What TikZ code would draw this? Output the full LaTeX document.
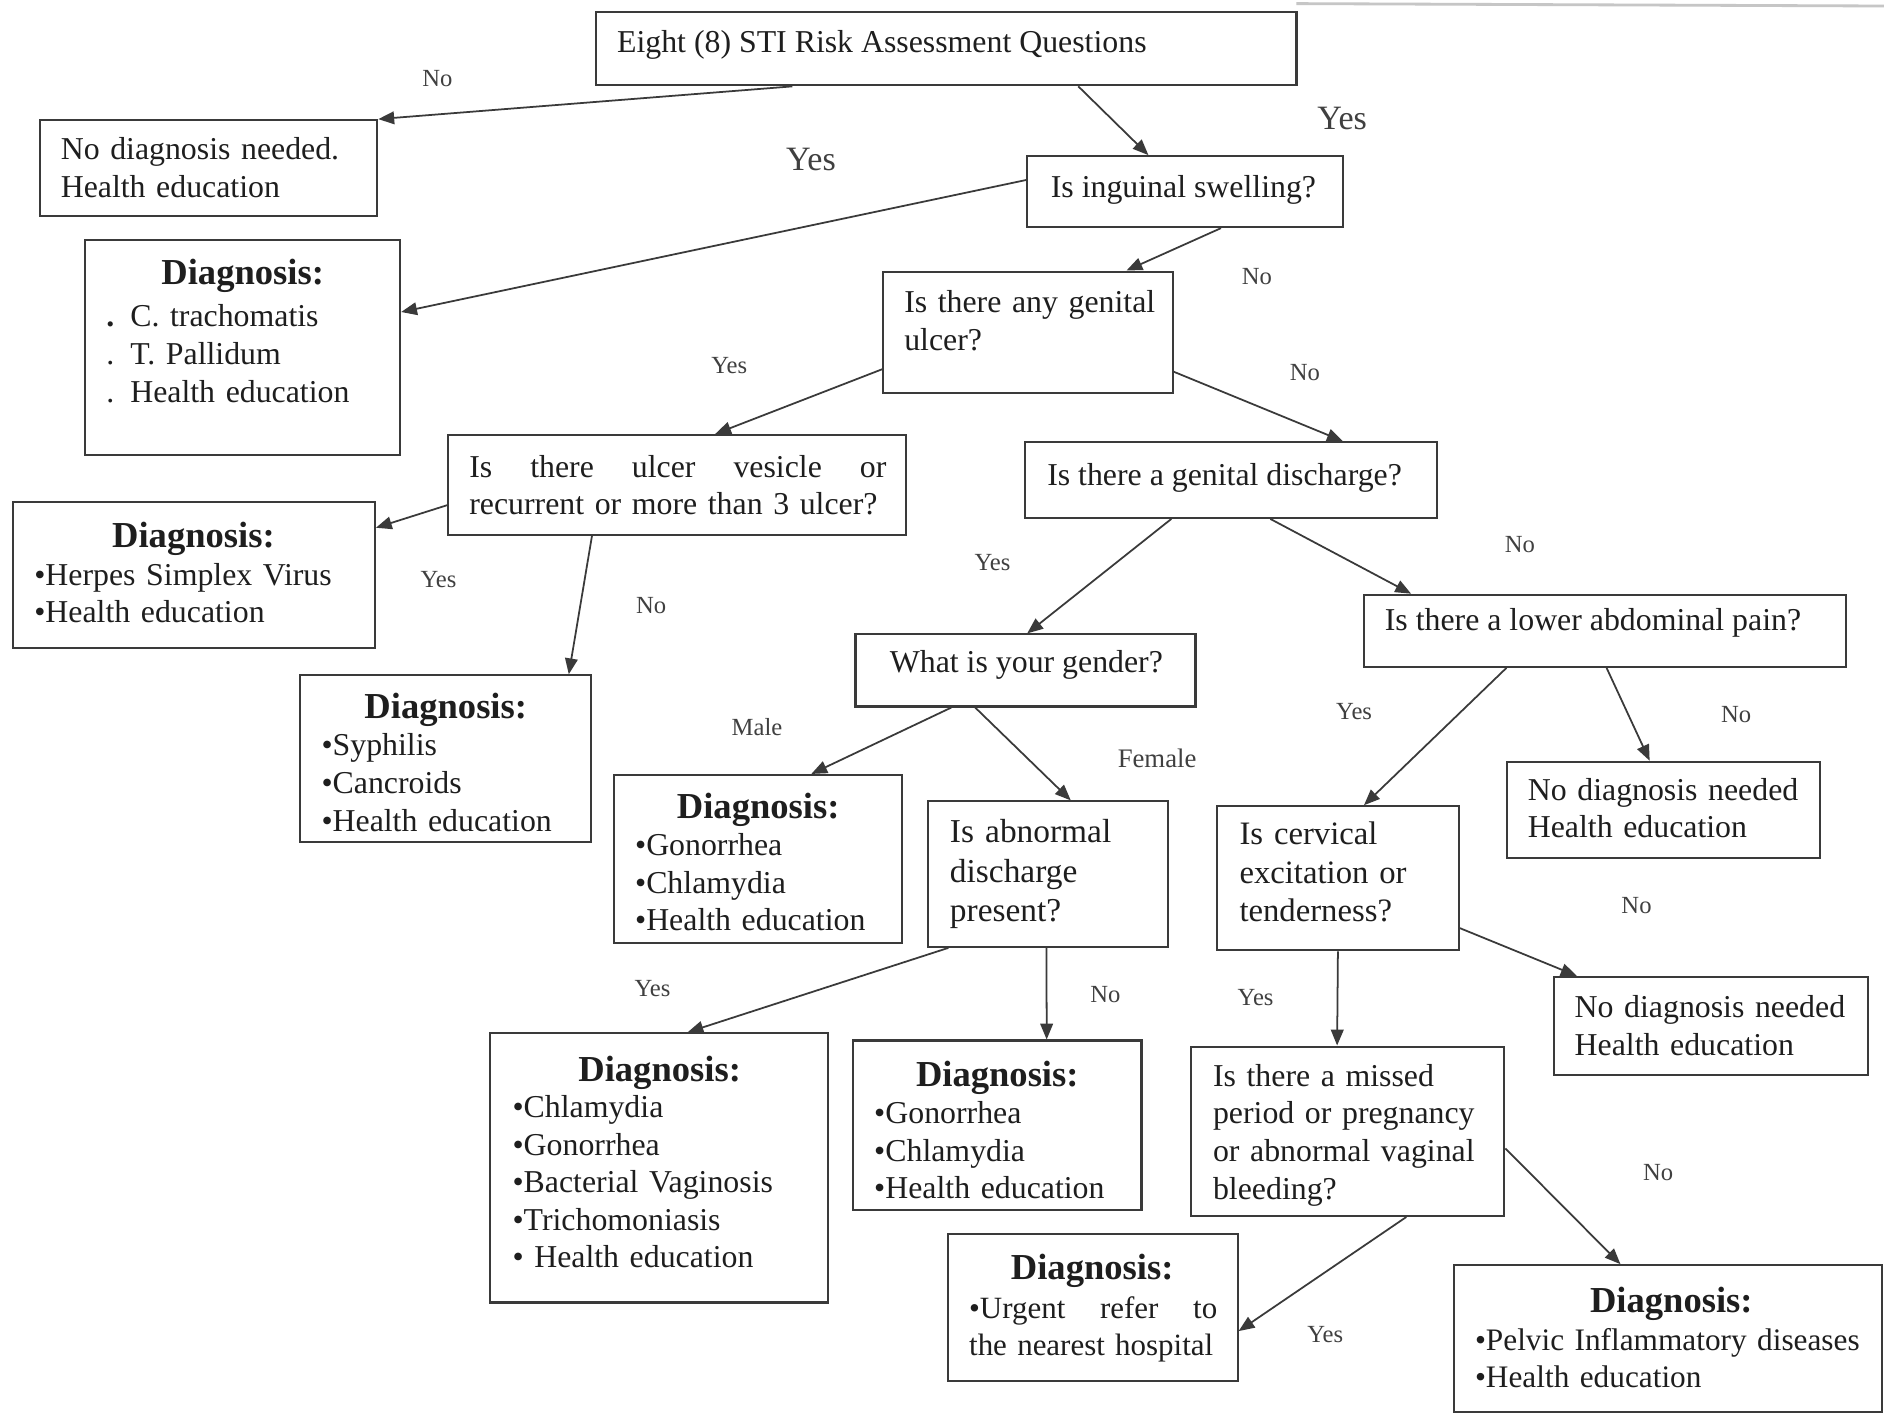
\documentclass[tikz,border=0pt]{standalone}
\usepackage{fontspec}
\setmainfont{Liberation Serif}
\usetikzlibrary{arrows.meta,calc,fit}
\definecolor{linec}{HTML}{3A3A3A}
\definecolor{txtc}{HTML}{1E1E1E}
\definecolor{labc}{HTML}{404040}
\tikzset{
 box/.style={draw=linec, line width=0.6pt, inner sep=0pt},
 txt/.style={font=\fontsize{9.05}{10.7}\selectfont, text=txtc, inner sep=0pt},
 mtxt/.style={txt, text width=5cm, align=left},
 hd/.style={font=\fontsize{10.4}{12}\selectfont\bfseries, text=txtc, inner sep=0pt},
 lab/.style={font=\fontsize{7}{8}\selectfont, text=labc, inner sep=0pt},
 biglab/.style={font=\fontsize{9.7}{11}\selectfont, text=labc, inner sep=0pt},
 arr/.style={draw=linec, line width=0.5pt, -{Triangle[length=4.5pt,width=3.6pt]}},
}
\begin{document}
\begin{tikzpicture}[x=0.012015cm, y=-0.012015cm]
\useasboundingbox[fill=white] (0,0) rectangle (1568,1177);
\draw[gray!45, line width=0.8pt] (1079,3) -- (1568,5);
% boxes
\node[box, fit={(496,10) (1079,71)}] (top) {};
\node[box, fit={(33,100) (314,180)}] (nd1) {};
\node[box, fit={(855,130) (1118,189)}] (ing) {};
\node[box, fit={(71,200) (333,379)}] (d1) {};
\node[box, fit={(735,226) (976,327)}] (ulc) {};
\node[box, fit={(373,362) (754,445)}] (ves) {};
\node[box, fit={(853,368) (1196,431)}] (dis) {};
\node[box, fit={(11,418) (312,539)}] (hsv) {};
\node[box, fit={(250,562) (492,701)}] (syp) {};
\node[box, fit={(712,528) (995,588)}] (gen) {};
\node[box, fit={(1135,495) (1536,555)}] (abd) {};
\node[box, fit={(511,645) (751,785)}] (gn1) {};
\node[box, fit={(772,667) (972,788)}] (abn) {};
\node[box, fit={(1013,671) (1214,791)}] (cer) {};
\node[box, fit={(1254,634) (1515,714)}] (nd2) {};
\node[box, fit={(1293,813) (1555,895)}] (nd3) {};
\node[box, fit={(408,860) (689,1084)}] (chl) {};
\node[box, fit={(710,866) (950,1007)}] (gn2) {};
\node[box, fit={(991,871) (1252,1012)}] (mis) {};
\node[box, fit={(789,1027) (1030,1149)}] (urg) {};
\node[box, fit={(1210,1053) (1566,1175)}] (pel) {};
% texts
\node[txt, anchor=base west] (topT) at (513,44) {Eight (8) STI Risk Assessment Questions};
\node[mtxt, anchor=base west] (nd1T) at (50,133) {No diagnosis needed.\\Health education};
\node[txt, anchor=base west] (ingT) at (874,164) {Is inguinal swelling?};
\node[hd, anchor=base] (d1H) at (202,237) {Diagnosis:};
\node[mtxt, anchor=base west] (d1L) at (88,272) {{\bfseries.} C. trachomatis\\. T. Pallidum\\. Health education};
\node[mtxt, anchor=base west] (ulcT) at (752,260) {Is there any genital\\ulcer?};
\node[txt, text width=4.169cm, align=left, anchor=base west] (vesT) at (390,397) {Is\hfill there\hfill ulcer\hfill vesicle\hfill or\\recurrent or more than 3 ulcer?};
\node[txt, anchor=base west] (disT) at (871,404) {Is there a genital discharge?};
\node[hd, anchor=base] (hsvH) at (161,456) {Diagnosis:};
\node[mtxt, anchor=base west] (hsvL) at (28,487) {•Herpes Simplex Virus\\•Health education};
\node[hd, anchor=base] (sypH) at (371,598) {Diagnosis:};
\node[mtxt, anchor=base west] (sypL) at (267,629) {•Syphilis\\•Cancroids\\•Health education};
\node[txt, anchor=base west] (genT) at (740,560) {What is your gender?};
\node[txt, anchor=base west] (abdT) at (1152,525) {Is there a lower abdominal pain?};
\node[hd, anchor=base] (gn1H) at (631,681) {Diagnosis:};
\node[mtxt, anchor=base west] (gn1L) at (528,712) {•Gonorrhea\\•Chlamydia\\•Health education};
\node[txt, font=\fontsize{9.5}{11.3}\selectfont, text width=3cm, align=left, anchor=base west] (abnT) at (790,701) {Is abnormal\\discharge\\present?};
\node[txt, font=\fontsize{9.3}{10.9}\selectfont, text width=3cm, align=left, anchor=base west] (cerT) at (1031,703) {Is cervical\\excitation or\\tenderness?};
\node[mtxt, anchor=base west] (nd2T) at (1271,666) {No diagnosis needed\\Health education};
\node[mtxt, anchor=base west] (nd3T) at (1310,847) {No diagnosis needed\\Health education};
\node[hd, anchor=base] (chlH) at (549,900) {Diagnosis:};
\node[mtxt, anchor=base west] (chlL) at (426,930) {•Chlamydia\\•Gonorrhea\\•Bacterial Vaginosis\\•Trichomoniasis\\• Health education};
\node[hd, anchor=base] (gn2H) at (830,904) {Diagnosis:};
\node[mtxt, anchor=base west] (gn2L) at (727,935) {•Gonorrhea\\•Chlamydia\\•Health education};
\node[mtxt, anchor=base west] (misT) at (1009,904) {Is there a missed\\period or pregnancy\\or abnormal vaginal\\bleeding?};
\node[hd, anchor=base] (urgH) at (909,1065) {Diagnosis:};
\node[txt, font=\fontsize{8.8}{10.7}\selectfont, text width=2.48cm, align=left, anchor=base west] (urgL) at (806,1097) {•Urgent\hfill refer\hfill to\\\mbox{the nearest hospital}};
\node[hd, anchor=base] (pelH) at (1391,1092) {Diagnosis:};
\node[mtxt, font=\fontsize{8.9}{10.5}\selectfont, anchor=base west] (pelL) at (1227,1124) {•Pelvic Inflammatory diseases\\•Health education};
% connectors
\draw[arr] ($(top.south west)!.281!(top.south east)$) -- (nd1.north east);
\draw[arr] ($(top.south west)!.688!(top.south east)$) -- ($(ing.north west)!.384!(ing.north east)$);
\draw[arr] ($(ing.north west)!.34!(ing.south west)$) -- ($(d1.north east)!.335!(d1.south east)$);
\draw[arr] ($(ing.south west)!.612!(ing.south east)$) -- ($(ulc.north west)!.838!(ulc.north east)$);
\draw[arr] ($(ulc.north west)!.80!(ulc.south west)$) -- ($(ves.north west)!.583!(ves.north east)$);
\draw[arr] ($(ulc.north east)!.82!(ulc.south east)$) -- ($(dis.north west)!.77!(dis.north east)$);
\draw[arr] ($(ves.north west)!.70!(ves.south west)$) -- ($(hsv.north east)!.18!(hsv.south east)$);
\draw[arr] ($(ves.south west)!.315!(ves.south east)$) -- ($(syp.north west)!.92!(syp.north east)$);
\draw[arr] ($(dis.south west)!.356!(dis.south east)$) -- ($(gen.north west)!.505!(gen.north east)$);
\draw[arr] ($(dis.south west)!.595!(dis.south east)$) -- ($(abd.north west)!.10!(abd.north east)$);
\draw[arr] ($(gen.south west)!.283!(gen.south east)$) -- ($(gn1.north west)!.683!(gn1.north east)$);
\draw[arr] ($(gen.south west)!.353!(gen.south east)$) -- ($(abn.north west)!.595!(abn.north east)$);
\draw[arr] ($(abd.south west)!.297!(abd.south east)$) -- ($(cer.north west)!.607!(cer.north east)$);
\draw[arr] ($(abd.south west)!.504!(abd.south east)$) -- ($(nd2.north west)!.456!(nd2.north east)$);
\draw[arr] ($(abn.south west)!.09!(abn.south east)$) -- ($(chl.north west)!.584!(chl.north east)$);
\draw[arr] ($(abn.south west)!.495!(abn.south east)$) -- ($(gn2.north west)!.67!(gn2.north east)$);
\draw[arr] ($(cer.north east)!.84!(cer.south east)$) -- ($(nd3.north west)!.076!(nd3.north east)$);
\draw[arr] ($(cer.south west)!.5!(cer.south east)$) -- ($(mis.north west)!.467!(mis.north east)$);
\draw[arr] ($(mis.south west)!.686!(mis.south east)$) -- ($(urg.north east)!.66!(urg.south east)$);
\draw[arr] ($(mis.north east)!.60!(mis.south east)$) -- ($(pel.north west)!.39!(pel.north east)$);
% labels
\node[lab] (l1) at (364,65) {No};
\node[biglab] (l2) at (1117,99) {Yes};
\node[biglab] (l3) at (675,133) {Yes};
\node[lab] (l4) at (1046,230) {No};
\node[lab] (l5) at (607,304) {Yes};
\node[lab] (l6) at (1086,310) {No};
\node[lab] (l7) at (365,482) {Yes};
\node[lab] (l8) at (542,504) {No};
\node[lab] (l9) at (826,468) {Yes};
\node[lab] (l10) at (1265,453) {No};
\node[lab] (l11) at (630,605) {Male};
\node[lab, font=\fontsize{7.6}{9}\selectfont] (l12) at (963,631) {Female};
\node[lab] (l13) at (1127,592) {Yes};
\node[lab] (l14) at (1445,595) {No};
\node[lab] (l15) at (543,823) {Yes};
\node[lab] (l16) at (920,828) {No};
\node[lab] (l17) at (1362,754) {No};
\node[lab] (l18) at (1045,830) {Yes};
\node[lab] (l19) at (1103,1111) {Yes};
\node[lab] (l20) at (1380,976) {No};
\end{tikzpicture}
\end{document}
